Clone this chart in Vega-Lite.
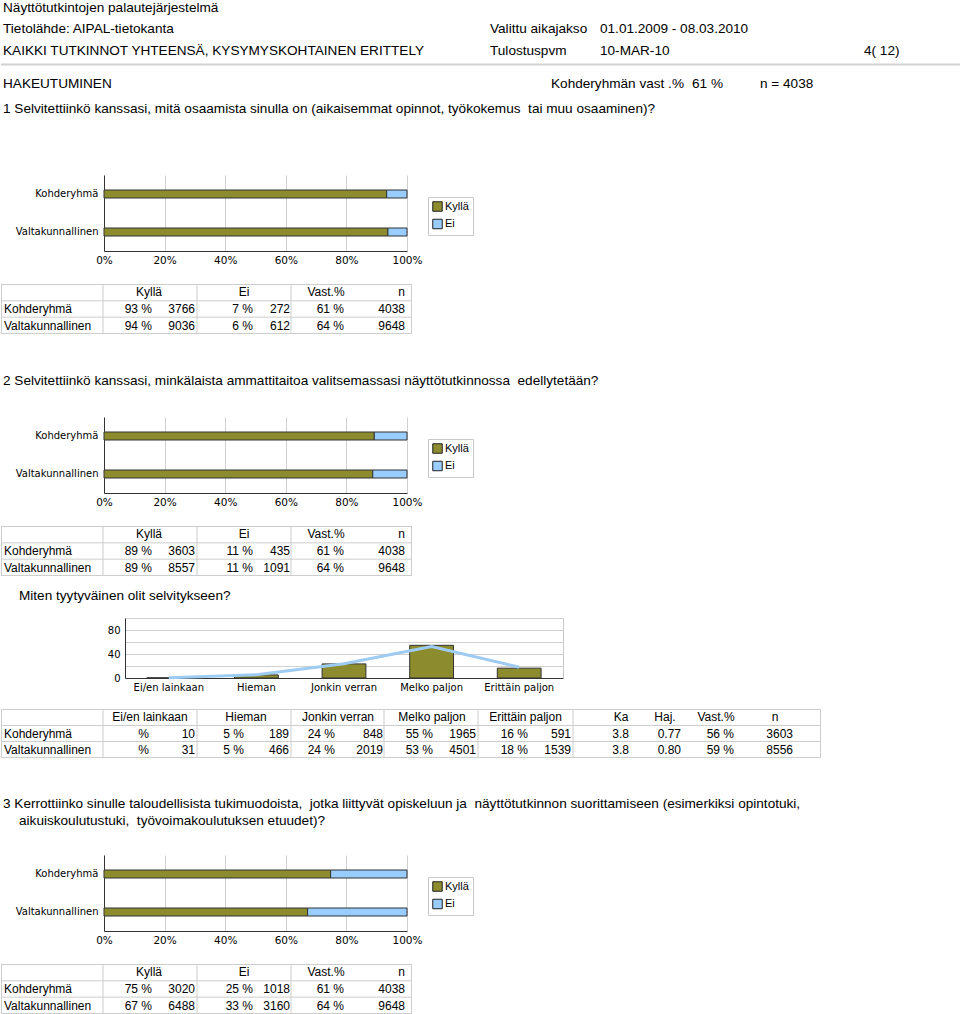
{
"$schema": "https://vega.github.io/schema/vega-lite/v6.json",
"padding": 0,
"background": "white",
"spacing": 0,
"bounds": "flush",
"config": {
  "view": {"stroke": null},
  "concat": {"spacing": 0},
  "text": {"font": "Liberation Sans", "fontSize": 12, "baseline": "middle", "color": "#000"},
  "axis": {"labelFont": "DejaVu Sans", "labelFontSize": 10, "labelColor": "#000", "title": null, "ticks": false, "domainColor": "#333", "labelFlush": false, "labelOverlap": false}
},
"datasets": {
  "page": [
    {"s": "top", "ln": 0, "c": 0, "v": "Näyttötutkintojen palautejärjestelmä"},
    {"s": "top", "ln": 1, "c": 0, "v": "Tietolähde: AIPAL-tietokanta"},
    {"s": "top", "ln": 1, "c": 1, "v": "Valittu aikajakso"},
    {"s": "top", "ln": 1, "c": 3, "v": "01.01.2009 - 08.03.2010"},
    {"s": "top", "ln": 2, "c": 0, "v": "KAIKKI TUTKINNOT YHTEENSÄ, KYSYMYSKOHTAINEN ERITTELY"},
    {"s": "top", "ln": 2, "c": 1, "v": "Tulostuspvm"},
    {"s": "top", "ln": 2, "c": 3, "v": "10-MAR-10"},
    {"s": "top", "ln": 2, "c": 6, "v": "4( 12)"},
    {"s": "top", "ln": 4, "c": 0, "v": "HAKEUTUMINEN"},
    {"s": "top", "ln": 4, "c": 2, "v": "Kohderyhmän vast .%"},
    {"s": "top", "ln": 4, "c": 4, "v": "61 %"},
    {"s": "top", "ln": 4, "c": 5, "v": "n = 4038"},
    {"s": "top", "ln": 5, "c": 0, "v": "1 Selvitettiinkö kanssasi, mitä osaamista sinulla on (aikaisemmat opinnot, työkokemus\u00a0 tai muu osaaminen)?"},
    {"s": "q2", "ln": 0, "c": 0, "v": "2 Selvitettiinkö kanssasi, minkälaista ammattitaitoa valitsemassasi näyttötutkinnossa\u00a0 edellytetään?"},
    {"s": "mt", "ln": 0, "c": 1, "v": "Miten tyytyväinen olit selvitykseen?"},
    {"s": "q3", "ln": 0, "c": 0, "v": "3 Kerrottiinko sinulle taloudellisista tukimuodoista,\u00a0 jotka liittyvät opiskeluun ja\u00a0 näyttötutkinnon suorittamiseen (esimerkiksi opintotuki,"},
    {"s": "q3", "ln": 1, "c": 1, "v": "aikuiskoulutustuki,\u00a0 työvoimakoulutuksen etuudet)?"}
  ],
  "bars": [
    {"q": 1, "grp": "Kohderyhmä", "ans": "Kyllä", "pct": 93.3},
    {"q": 1, "grp": "Kohderyhmä", "ans": "Ei", "pct": 6.7},
    {"q": 1, "grp": "Valtakunnallinen", "ans": "Kyllä", "pct": 93.7},
    {"q": 1, "grp": "Valtakunnallinen", "ans": "Ei", "pct": 6.3},
    {"q": 2, "grp": "Kohderyhmä", "ans": "Kyllä", "pct": 89.2},
    {"q": 2, "grp": "Kohderyhmä", "ans": "Ei", "pct": 10.8},
    {"q": 2, "grp": "Valtakunnallinen", "ans": "Kyllä", "pct": 88.7},
    {"q": 2, "grp": "Valtakunnallinen", "ans": "Ei", "pct": 11.3},
    {"q": 3, "grp": "Kohderyhmä", "ans": "Kyllä", "pct": 74.8},
    {"q": 3, "grp": "Kohderyhmä", "ans": "Ei", "pct": 25.2},
    {"q": 3, "grp": "Valtakunnallinen", "ans": "Kyllä", "pct": 67.2},
    {"q": 3, "grp": "Valtakunnallinen", "ans": "Ei", "pct": 32.8}
  ],
  "sat": [
    {"grp": "Kohderyhmä", "cat": "Ei/en lainkaan", "pct": 0.3},
    {"grp": "Kohderyhmä", "cat": "Hieman", "pct": 5.2},
    {"grp": "Kohderyhmä", "cat": "Jonkin verran", "pct": 23.5},
    {"grp": "Kohderyhmä", "cat": "Melko paljon", "pct": 54.5},
    {"grp": "Kohderyhmä", "cat": "Erittäin paljon", "pct": 16.4},
    {"grp": "Valtakunnallinen", "cat": "Ei/en lainkaan", "pct": 0.4},
    {"grp": "Valtakunnallinen", "cat": "Hieman", "pct": 5.4},
    {"grp": "Valtakunnallinen", "cat": "Jonkin verran", "pct": 23.6},
    {"grp": "Valtakunnallinen", "cat": "Melko paljon", "pct": 52.6},
    {"grp": "Valtakunnallinen", "cat": "Erittäin paljon", "pct": 18.0}
  ],
  "t1": [
    {"row": "h", "k": "h", "c": 0, "v": "Kyllä"}, {"row": "h", "k": "h", "c": 1, "v": "Ei"}, {"row": "h", "k": "h", "c": 2, "v": "Vast.%"}, {"row": "h", "k": "h", "c": 3, "v": "n"},
    {"row": "Kohderyhmä", "k": "v", "c": 1, "v": "93 %"}, {"row": "Kohderyhmä", "k": "v", "c": 2, "v": "3766"}, {"row": "Kohderyhmä", "k": "v", "c": 3, "v": "7 %"}, {"row": "Kohderyhmä", "k": "v", "c": 4, "v": "272"}, {"row": "Kohderyhmä", "k": "v", "c": 5, "v": "61 %"}, {"row": "Kohderyhmä", "k": "v", "c": 6, "v": "4038"},
    {"row": "Valtakunnallinen", "k": "v", "c": 1, "v": "94 %"}, {"row": "Valtakunnallinen", "k": "v", "c": 2, "v": "9036"}, {"row": "Valtakunnallinen", "k": "v", "c": 3, "v": "6 %"}, {"row": "Valtakunnallinen", "k": "v", "c": 4, "v": "612"}, {"row": "Valtakunnallinen", "k": "v", "c": 5, "v": "64 %"}, {"row": "Valtakunnallinen", "k": "v", "c": 6, "v": "9648"}
  ],
  "t2": [
    {"row": "h", "k": "h", "c": 0, "v": "Kyllä"}, {"row": "h", "k": "h", "c": 1, "v": "Ei"}, {"row": "h", "k": "h", "c": 2, "v": "Vast.%"}, {"row": "h", "k": "h", "c": 3, "v": "n"},
    {"row": "Kohderyhmä", "k": "v", "c": 1, "v": "89 %"}, {"row": "Kohderyhmä", "k": "v", "c": 2, "v": "3603"}, {"row": "Kohderyhmä", "k": "v", "c": 3, "v": "11 %"}, {"row": "Kohderyhmä", "k": "v", "c": 4, "v": "435"}, {"row": "Kohderyhmä", "k": "v", "c": 5, "v": "61 %"}, {"row": "Kohderyhmä", "k": "v", "c": 6, "v": "4038"},
    {"row": "Valtakunnallinen", "k": "v", "c": 1, "v": "89 %"}, {"row": "Valtakunnallinen", "k": "v", "c": 2, "v": "8557"}, {"row": "Valtakunnallinen", "k": "v", "c": 3, "v": "11 %"}, {"row": "Valtakunnallinen", "k": "v", "c": 4, "v": "1091"}, {"row": "Valtakunnallinen", "k": "v", "c": 5, "v": "64 %"}, {"row": "Valtakunnallinen", "k": "v", "c": 6, "v": "9648"}
  ],
  "t4": [
    {"row": "h", "k": "h", "c": 0, "v": "Kyllä"}, {"row": "h", "k": "h", "c": 1, "v": "Ei"}, {"row": "h", "k": "h", "c": 2, "v": "Vast.%"}, {"row": "h", "k": "h", "c": 3, "v": "n"},
    {"row": "Kohderyhmä", "k": "v", "c": 1, "v": "75 %"}, {"row": "Kohderyhmä", "k": "v", "c": 2, "v": "3020"}, {"row": "Kohderyhmä", "k": "v", "c": 3, "v": "25 %"}, {"row": "Kohderyhmä", "k": "v", "c": 4, "v": "1018"}, {"row": "Kohderyhmä", "k": "v", "c": 5, "v": "61 %"}, {"row": "Kohderyhmä", "k": "v", "c": 6, "v": "4038"},
    {"row": "Valtakunnallinen", "k": "v", "c": 1, "v": "67 %"}, {"row": "Valtakunnallinen", "k": "v", "c": 2, "v": "6488"}, {"row": "Valtakunnallinen", "k": "v", "c": 3, "v": "33 %"}, {"row": "Valtakunnallinen", "k": "v", "c": 4, "v": "3160"}, {"row": "Valtakunnallinen", "k": "v", "c": 5, "v": "64 %"}, {"row": "Valtakunnallinen", "k": "v", "c": 6, "v": "9648"}
  ],
  "t3": [
    {"row": "h", "k": "h", "c": 0, "v": "Ei/en lainkaan"}, {"row": "h", "k": "h", "c": 1, "v": "Hieman"}, {"row": "h", "k": "h", "c": 2, "v": "Jonkin verran"}, {"row": "h", "k": "h", "c": 3, "v": "Melko paljon"}, {"row": "h", "k": "h", "c": 4, "v": "Erittäin paljon"}, {"row": "h", "k": "h", "c": 5, "v": "Ka"}, {"row": "h", "k": "h", "c": 6, "v": "Haj."}, {"row": "h", "k": "h", "c": 7, "v": "Vast.%"}, {"row": "h", "k": "h", "c": 8, "v": "n"},
    {"row": "Kohderyhmä", "k": "v", "c": 1, "v": "%"}, {"row": "Kohderyhmä", "k": "v", "c": 2, "v": "10"}, {"row": "Kohderyhmä", "k": "v", "c": 3, "v": "5 %"}, {"row": "Kohderyhmä", "k": "v", "c": 4, "v": "189"}, {"row": "Kohderyhmä", "k": "v", "c": 5, "v": "24 %"}, {"row": "Kohderyhmä", "k": "v", "c": 6, "v": "848"}, {"row": "Kohderyhmä", "k": "v", "c": 7, "v": "55 %"}, {"row": "Kohderyhmä", "k": "v", "c": 8, "v": "1965"}, {"row": "Kohderyhmä", "k": "v", "c": 9, "v": "16 %"}, {"row": "Kohderyhmä", "k": "v", "c": 10, "v": "591"}, {"row": "Kohderyhmä", "k": "v", "c": 11, "v": "3.8"}, {"row": "Kohderyhmä", "k": "v", "c": 12, "v": "0.77"}, {"row": "Kohderyhmä", "k": "v", "c": 13, "v": "56 %"}, {"row": "Kohderyhmä", "k": "v", "c": 14, "v": "3603"},
    {"row": "Valtakunnallinen", "k": "v", "c": 1, "v": "%"}, {"row": "Valtakunnallinen", "k": "v", "c": 2, "v": "31"}, {"row": "Valtakunnallinen", "k": "v", "c": 3, "v": "5 %"}, {"row": "Valtakunnallinen", "k": "v", "c": 4, "v": "466"}, {"row": "Valtakunnallinen", "k": "v", "c": 5, "v": "24 %"}, {"row": "Valtakunnallinen", "k": "v", "c": 6, "v": "2019"}, {"row": "Valtakunnallinen", "k": "v", "c": 7, "v": "53 %"}, {"row": "Valtakunnallinen", "k": "v", "c": 8, "v": "4501"}, {"row": "Valtakunnallinen", "k": "v", "c": 9, "v": "18 %"}, {"row": "Valtakunnallinen", "k": "v", "c": 10, "v": "1539"}, {"row": "Valtakunnallinen", "k": "v", "c": 11, "v": "3.8"}, {"row": "Valtakunnallinen", "k": "v", "c": 12, "v": "0.80"}, {"row": "Valtakunnallinen", "k": "v", "c": 13, "v": "59 %"}, {"row": "Valtakunnallinen", "k": "v", "c": 14, "v": "8556"}
  ]
},
"resolve": {"scale": {"color": "independent"}, "legend": {"color": "independent"}},
"vconcat": [
  {
    "width": 960, "height": 174,
    "layer": [
      {"data": {"values": [{"ln": 3}]}, "mark": {"type": "rule", "color": "#d2d2d2", "strokeWidth": 2},
       "encoding": {"y": {"field": "ln", "type": "quantitative", "scale": {"domain": [0, 1, 2, 3, 4, 5], "range": [6.5, 27.5, 49.5, 63.5, 83, 108]}, "axis": null}}},
      {"data": {"name": "page"}, "transform": [{"filter": "datum.s == 'top'"}],
       "mark": {"type": "text", "align": "left", "fontSize": 13.6},
       "encoding": {
         "x": {"field": "c", "type": "quantitative", "scale": {"domain": [0, 1, 2, 3, 4, 5, 6], "range": [2, 489, 550, 599, 691, 759, 863]}, "axis": null},
         "y": {"field": "ln", "type": "quantitative", "axis": null},
         "text": {"field": "v"}}}
    ]
  },
  {"width": 406, "height": 76, "data": {"name": "bars"}, "transform": [{"filter": "datum.q == 1"}],
   "mark": {"type": "bar", "size": 8, "stroke": "#333", "strokeWidth": 1},
   "encoding": {
     "y": {"field": "grp", "type": "nominal", "scale": {"domain": ["Kohderyhmä", "Valtakunnallinen"], "paddingInner": 0, "paddingOuter": 0}, "axis": {"labelPadding": 6, "offset": -103}},
     "x": {"field": "pct", "type": "quantitative", "stack": "zero", "scale": {"domain": [0, 100], "range": [103, 406]}, "axis": {"values": [0, 20, 40, 60, 80, 100], "labelExpr": "datum.value + '%'", "grid": true, "gridColor": "#d0d0d0", "labelPadding": 4, "labelFontSize": 10.5}},
     "color": {"field": "ans", "type": "nominal", "scale": {"domain": ["Kyllä", "Ei"], "range": ["#8c8c2f", "#99ccff"]},
       "legend": {"orient": "none", "legendX": 427, "legendY": 22, "title": null, "padding": 4, "strokeColor": "#c8c8c8", "fillColor": "#fff", "symbolType": "square", "symbolSize": 90, "symbolStrokeColor": "#222", "symbolStrokeWidth": 1, "labelOffset": 2, "rowPadding": 2.5, "labelFont": "Liberation Sans", "labelFontSize": 11, "labelColor": "#000"}},
     "order": {"field": "ans", "sort": "descending"}}},
  {"width": 10, "height": 33, "data": {"values": []}, "mark": "text", "encoding": {}},
  {
    "width": 411, "height": 50,
    "layer": [
      {"data": {"values": [{"b": 0}, {"b": 1}, {"b": 2}, {"b": 3}, {"b": 4}]}, "mark": {"type": "rule", "color": "#cdcdcd"},
       "encoding": {"x": {"field": "b", "type": "quantitative", "scale": {"domain": [0, 1, 2, 3, 4], "range": [0.5, 102, 196, 290, 410.5]}, "axis": null}}},
      {"data": {"values": [{"r": 0}, {"r": 1}, {"r": 2}, {"r": 3}]}, "mark": {"type": "rule", "color": "#cdcdcd"},
       "encoding": {"y": {"field": "r", "type": "quantitative", "scale": {"domain": [0, 3], "range": [0.5, 49.5]}, "axis": null}}},
      {"data": {"name": "t1"}, "transform": [{"filter": "datum.k == 'h'"}], "mark": {"type": "text", "align": "center"},
       "encoding": {"x": {"field": "c", "type": "quantitative", "scale": {"domain": [0, 1, 2, 3], "range": [148, 243, 325, 400.5]}, "axis": null},
         "y": {"field": "row", "type": "nominal", "scale": {"domain": ["h", "Kohderyhmä", "Valtakunnallinen"], "paddingInner": 0, "paddingOuter": 0}, "axis": null},
         "text": {"field": "v"}}},
      {"data": {"name": "t1"}, "transform": [{"filter": "datum.k == 'v'"}], "mark": {"type": "text", "align": "right"},
       "encoding": {"x": {"field": "c", "type": "quantitative", "scale": {"domain": [1, 2, 3, 4, 5, 6], "range": [151, 194, 252, 289, 343, 404]}, "axis": null},
         "y": {"field": "row", "type": "nominal", "scale": {"domain": ["h", "Kohderyhmä", "Valtakunnallinen"], "paddingInner": 0, "paddingOuter": 0}, "axis": null},
         "text": {"field": "v"}}},
      {"data": {"name": "t1"}, "transform": [{"filter": "datum.k == 'v' && datum.c == 1"}], "mark": {"type": "text", "align": "left"},
       "encoding": {"x": {"field": "c", "type": "quantitative", "scale": {"domain": [1, 2], "range": [3, 4]}, "axis": null},
         "y": {"field": "row", "type": "nominal", "scale": {"domain": ["h", "Kohderyhmä", "Valtakunnallinen"], "paddingInner": 0, "paddingOuter": 0}, "axis": null},
         "text": {"field": "row"}}}
    ],
    "resolve": {"scale": {"x": "independent", "y": "independent"}}
  },
  {
    "width": 960, "height": 83,
    "data": {"name": "page"}, "transform": [{"filter": "datum.s == 'q2'"}],
    "mark": {"type": "text", "align": "left", "fontSize": 13.6},
    "encoding": {
      "x": {"field": "c", "type": "quantitative", "scale": {"domain": [0, 1], "range": [2, 18]}, "axis": null},
      "y": {"field": "ln", "type": "quantitative", "scale": {"domain": [0, 1], "range": [47, 64]}, "axis": null},
      "text": {"field": "v"}}
  },
  {"width": 406, "height": 76, "data": {"name": "bars"}, "transform": [{"filter": "datum.q == 2"}],
   "mark": {"type": "bar", "size": 8, "stroke": "#333", "strokeWidth": 1},
   "encoding": {
     "y": {"field": "grp", "type": "nominal", "scale": {"domain": ["Kohderyhmä", "Valtakunnallinen"], "paddingInner": 0, "paddingOuter": 0}, "axis": {"labelPadding": 6, "offset": -103}},
     "x": {"field": "pct", "type": "quantitative", "stack": "zero", "scale": {"domain": [0, 100], "range": [103, 406]}, "axis": {"values": [0, 20, 40, 60, 80, 100], "labelExpr": "datum.value + '%'", "grid": true, "gridColor": "#d0d0d0", "labelPadding": 4, "labelFontSize": 10.5}},
     "color": {"field": "ans", "type": "nominal", "scale": {"domain": ["Kyllä", "Ei"], "range": ["#8c8c2f", "#99ccff"]},
       "legend": {"orient": "none", "legendX": 427, "legendY": 22, "title": null, "padding": 4, "strokeColor": "#c8c8c8", "fillColor": "#fff", "symbolType": "square", "symbolSize": 90, "symbolStrokeColor": "#222", "symbolStrokeWidth": 1, "labelOffset": 2, "rowPadding": 2.5, "labelFont": "Liberation Sans", "labelFontSize": 11, "labelColor": "#000"}},
     "order": {"field": "ans", "sort": "descending"}}},
  {"width": 10, "height": 33, "data": {"values": []}, "mark": "text", "encoding": {}},
  {
    "width": 411, "height": 50,
    "layer": [
      {"data": {"values": [{"b": 0}, {"b": 1}, {"b": 2}, {"b": 3}, {"b": 4}]}, "mark": {"type": "rule", "color": "#cdcdcd"},
       "encoding": {"x": {"field": "b", "type": "quantitative", "scale": {"domain": [0, 1, 2, 3, 4], "range": [0.5, 102, 196, 290, 410.5]}, "axis": null}}},
      {"data": {"values": [{"r": 0}, {"r": 1}, {"r": 2}, {"r": 3}]}, "mark": {"type": "rule", "color": "#cdcdcd"},
       "encoding": {"y": {"field": "r", "type": "quantitative", "scale": {"domain": [0, 3], "range": [0.5, 49.5]}, "axis": null}}},
      {"data": {"name": "t2"}, "transform": [{"filter": "datum.k == 'h'"}], "mark": {"type": "text", "align": "center"},
       "encoding": {"x": {"field": "c", "type": "quantitative", "scale": {"domain": [0, 1, 2, 3], "range": [148, 243, 325, 400.5]}, "axis": null},
         "y": {"field": "row", "type": "nominal", "scale": {"domain": ["h", "Kohderyhmä", "Valtakunnallinen"], "paddingInner": 0, "paddingOuter": 0}, "axis": null},
         "text": {"field": "v"}}},
      {"data": {"name": "t2"}, "transform": [{"filter": "datum.k == 'v'"}], "mark": {"type": "text", "align": "right"},
       "encoding": {"x": {"field": "c", "type": "quantitative", "scale": {"domain": [1, 2, 3, 4, 5, 6], "range": [151, 194, 252, 289, 343, 404]}, "axis": null},
         "y": {"field": "row", "type": "nominal", "scale": {"domain": ["h", "Kohderyhmä", "Valtakunnallinen"], "paddingInner": 0, "paddingOuter": 0}, "axis": null},
         "text": {"field": "v"}}},
      {"data": {"name": "t2"}, "transform": [{"filter": "datum.k == 'v' && datum.c == 1"}], "mark": {"type": "text", "align": "left"},
       "encoding": {"x": {"field": "c", "type": "quantitative", "scale": {"domain": [1, 2], "range": [3, 4]}, "axis": null},
         "y": {"field": "row", "type": "nominal", "scale": {"domain": ["h", "Kohderyhmä", "Valtakunnallinen"], "paddingInner": 0, "paddingOuter": 0}, "axis": null},
         "text": {"field": "row"}}}
    ],
    "resolve": {"scale": {"x": "independent", "y": "independent"}}
  },
  {
    "width": 960, "height": 42,
    "data": {"name": "page"}, "transform": [{"filter": "datum.s == 'mt'"}],
    "mark": {"type": "text", "align": "left", "fontSize": 13.6},
    "encoding": {
      "x": {"field": "c", "type": "quantitative", "scale": {"domain": [0, 1], "range": [2, 18]}, "axis": null},
      "y": {"field": "ln", "type": "quantitative", "scale": {"domain": [0, 1], "range": [20, 37]}, "axis": null},
      "text": {"field": "v"}}
  },
  {"width": 562, "height": 60,
   "layer": [
     {"data": {"name": "sat"}, "transform": [{"filter": "datum.grp == 'Kohderyhmä'"}],
      "mark": {"type": "bar", "fill": "#8c8c2f", "stroke": "#333", "strokeWidth": 1},
      "encoding": {
        "x": {"field": "cat", "type": "nominal", "scale": {"domain": ["Ei/en lainkaan", "Hieman", "Jonkin verran", "Melko paljon", "Erittäin paljon"], "range": [124, 562], "paddingInner": 0.5, "paddingOuter": 0.25}, "axis": {"labelAngle": 0, "labelPadding": 4, "grid": false}},
        "y": {"field": "pct", "type": "quantitative", "scale": {"domain": [0, 100]}, "axis": {"offset": -124, "values": [0, 20, 40, 60, 80, 100], "labelExpr": "datum.value % 40 == 0 && datum.value < 100 ? datum.label : ''", "grid": true, "gridColor": "#d0d0d0", "labelPadding": 5}}}},
     {"data": {"name": "sat"}, "transform": [{"filter": "datum.grp == 'Valtakunnallinen'"}],
      "mark": {"type": "line", "color": "#9ecbf2", "strokeWidth": 3},
      "encoding": {
        "x": {"field": "cat", "type": "nominal"},
        "y": {"field": "pct", "type": "quantitative", "axis": {"orient": "right", "labels": false, "grid": false, "domainColor": "#c8c8c8"}}}}
   ],
   "resolve": {"axis": {"y": "independent"}}},
  {"width": 10, "height": 31, "data": {"values": []}, "mark": "text", "encoding": {}},
  {
    "width": 820, "height": 49,
    "layer": [
      {"data": {"values": [{"b": 0}, {"b": 1}, {"b": 2}, {"b": 3}, {"b": 4}, {"b": 5}, {"b": 6}, {"b": 7}]}, "mark": {"type": "rule", "color": "#cdcdcd"},
       "encoding": {"x": {"field": "b", "type": "quantitative", "scale": {"domain": [0, 1, 2, 3, 4, 5, 6, 7], "range": [0.5, 102, 196, 290, 383, 477, 572, 819.5]}, "axis": null}}},
      {"data": {"values": [{"r": 0}, {"r": 1}, {"r": 2}, {"r": 3}]}, "mark": {"type": "rule", "color": "#cdcdcd"},
       "encoding": {"y": {"field": "r", "type": "quantitative", "scale": {"domain": [0, 3], "range": [0.5, 48.5]}, "axis": null}}},
      {"data": {"name": "t3"}, "transform": [{"filter": "datum.k == 'h'"}], "mark": {"type": "text", "align": "center"},
       "encoding": {"x": {"field": "c", "type": "quantitative", "scale": {"domain": [0, 1, 2, 3, 4, 5, 6, 7, 8], "range": [149, 245, 337, 431, 524.5, 620, 664, 715, 774]}, "axis": null},
         "y": {"field": "row", "type": "nominal", "scale": {"domain": ["h", "Kohderyhmä", "Valtakunnallinen"], "paddingInner": 0, "paddingOuter": 0}, "axis": null},
         "text": {"field": "v"}}},
      {"data": {"name": "t3"}, "transform": [{"filter": "datum.k == 'v'"}], "mark": {"type": "text", "align": "right"},
       "encoding": {"x": {"field": "c", "type": "quantitative", "scale": {"domain": [1, 2, 3, 4, 5, 6, 7, 8, 9, 10, 11, 12, 13, 14], "range": [148, 194, 243, 288, 334, 382, 432, 475, 527, 570, 628, 680, 733, 792]}, "axis": null},
         "y": {"field": "row", "type": "nominal", "scale": {"domain": ["h", "Kohderyhmä", "Valtakunnallinen"], "paddingInner": 0, "paddingOuter": 0}, "axis": null},
         "text": {"field": "v"}}},
      {"data": {"name": "t3"}, "transform": [{"filter": "datum.k == 'v' && datum.c == 1"}], "mark": {"type": "text", "align": "left"},
       "encoding": {"x": {"field": "c", "type": "quantitative", "scale": {"domain": [1, 2], "range": [3, 4]}, "axis": null},
         "y": {"field": "row", "type": "nominal", "scale": {"domain": ["h", "Kohderyhmä", "Valtakunnallinen"], "paddingInner": 0, "paddingOuter": 0}, "axis": null},
         "text": {"field": "row"}}}
    ],
    "resolve": {"scale": {"x": "independent", "y": "independent"}}
  },
  {
    "width": 960, "height": 97,
    "data": {"name": "page"}, "transform": [{"filter": "datum.s == 'q3'"}],
    "mark": {"type": "text", "align": "left", "fontSize": 13.6},
    "encoding": {
      "x": {"field": "c", "type": "quantitative", "scale": {"domain": [0, 1], "range": [2, 18]}, "axis": null},
      "y": {"field": "ln", "type": "quantitative", "scale": {"domain": [0, 1], "range": [46, 63]}, "axis": null},
      "text": {"field": "v"}}
  },
  {"width": 406, "height": 76, "data": {"name": "bars"}, "transform": [{"filter": "datum.q == 3"}],
   "mark": {"type": "bar", "size": 8, "stroke": "#333", "strokeWidth": 1},
   "encoding": {
     "y": {"field": "grp", "type": "nominal", "scale": {"domain": ["Kohderyhmä", "Valtakunnallinen"], "paddingInner": 0, "paddingOuter": 0}, "axis": {"labelPadding": 6, "offset": -103}},
     "x": {"field": "pct", "type": "quantitative", "stack": "zero", "scale": {"domain": [0, 100], "range": [103, 406]}, "axis": {"values": [0, 20, 40, 60, 80, 100], "labelExpr": "datum.value + '%'", "grid": true, "gridColor": "#d0d0d0", "labelPadding": 4, "labelFontSize": 10.5}},
     "color": {"field": "ans", "type": "nominal", "scale": {"domain": ["Kyllä", "Ei"], "range": ["#8c8c2f", "#99ccff"]},
       "legend": {"orient": "none", "legendX": 427, "legendY": 22, "title": null, "padding": 4, "strokeColor": "#c8c8c8", "fillColor": "#fff", "symbolType": "square", "symbolSize": 90, "symbolStrokeColor": "#222", "symbolStrokeWidth": 1, "labelOffset": 2, "rowPadding": 2.5, "labelFont": "Liberation Sans", "labelFontSize": 11, "labelColor": "#000"}},
     "order": {"field": "ans", "sort": "descending"}}},
  {"width": 10, "height": 33, "data": {"values": []}, "mark": "text", "encoding": {}},
  {
    "width": 411, "height": 50,
    "layer": [
      {"data": {"values": [{"b": 0}, {"b": 1}, {"b": 2}, {"b": 3}, {"b": 4}]}, "mark": {"type": "rule", "color": "#cdcdcd"},
       "encoding": {"x": {"field": "b", "type": "quantitative", "scale": {"domain": [0, 1, 2, 3, 4], "range": [0.5, 102, 196, 290, 410.5]}, "axis": null}}},
      {"data": {"values": [{"r": 0}, {"r": 1}, {"r": 2}, {"r": 3}]}, "mark": {"type": "rule", "color": "#cdcdcd"},
       "encoding": {"y": {"field": "r", "type": "quantitative", "scale": {"domain": [0, 3], "range": [0.5, 49.5]}, "axis": null}}},
      {"data": {"name": "t4"}, "transform": [{"filter": "datum.k == 'h'"}], "mark": {"type": "text", "align": "center"},
       "encoding": {"x": {"field": "c", "type": "quantitative", "scale": {"domain": [0, 1, 2, 3], "range": [148, 243, 325, 400.5]}, "axis": null},
         "y": {"field": "row", "type": "nominal", "scale": {"domain": ["h", "Kohderyhmä", "Valtakunnallinen"], "paddingInner": 0, "paddingOuter": 0}, "axis": null},
         "text": {"field": "v"}}},
      {"data": {"name": "t4"}, "transform": [{"filter": "datum.k == 'v'"}], "mark": {"type": "text", "align": "right"},
       "encoding": {"x": {"field": "c", "type": "quantitative", "scale": {"domain": [1, 2, 3, 4, 5, 6], "range": [151, 194, 252, 289, 343, 404]}, "axis": null},
         "y": {"field": "row", "type": "nominal", "scale": {"domain": ["h", "Kohderyhmä", "Valtakunnallinen"], "paddingInner": 0, "paddingOuter": 0}, "axis": null},
         "text": {"field": "v"}}},
      {"data": {"name": "t4"}, "transform": [{"filter": "datum.k == 'v' && datum.c == 1"}], "mark": {"type": "text", "align": "left"},
       "encoding": {"x": {"field": "c", "type": "quantitative", "scale": {"domain": [1, 2], "range": [3, 4]}, "axis": null},
         "y": {"field": "row", "type": "nominal", "scale": {"domain": ["h", "Kohderyhmä", "Valtakunnallinen"], "paddingInner": 0, "paddingOuter": 0}, "axis": null},
         "text": {"field": "row"}}}
    ],
    "resolve": {"scale": {"x": "independent", "y": "independent"}}
  }
]
}
